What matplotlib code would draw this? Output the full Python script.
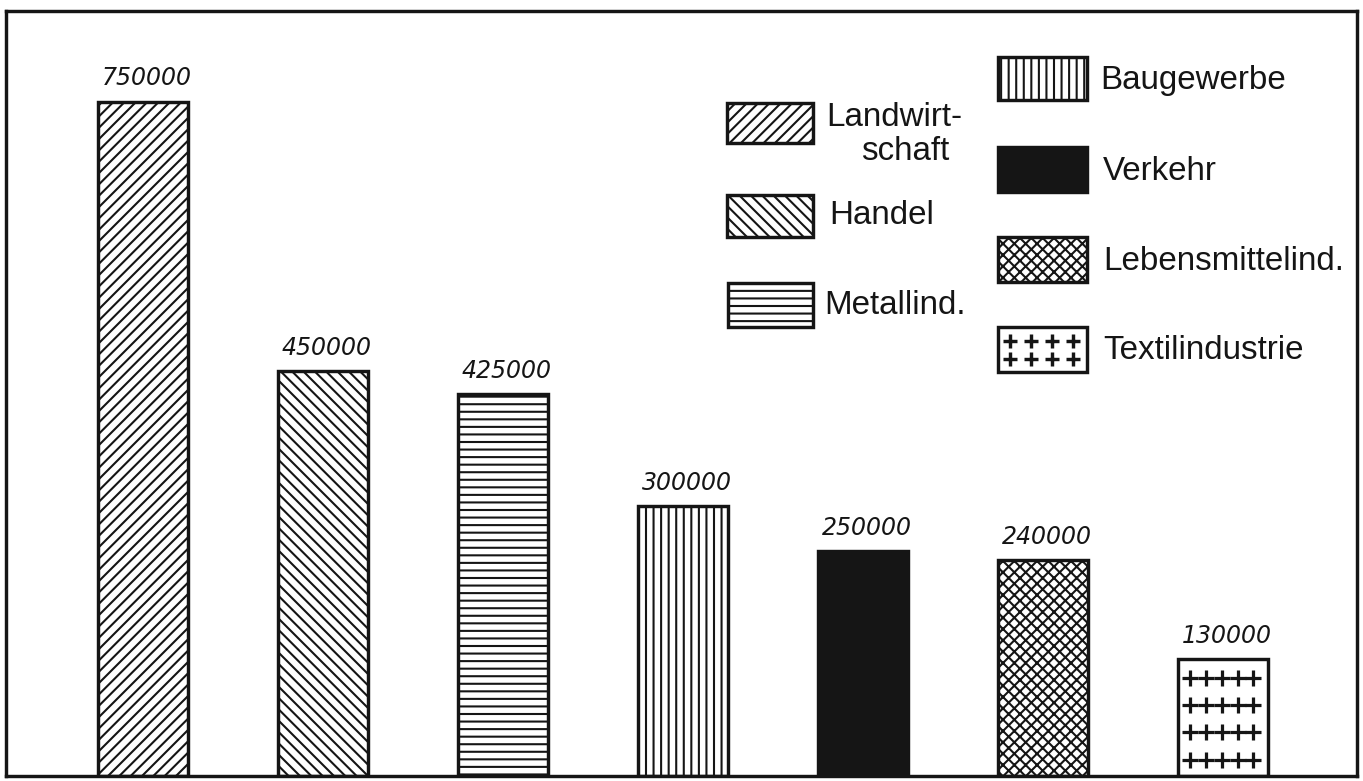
import numpy as np
import matplotlib
matplotlib.use('Agg')
import matplotlib.pyplot as plt
from matplotlib.patches import Rectangle

# data
branchen = ['Landwirtschaft', 'Handel', 'Metallind.', 'Baugewerbe', 'Verkehr',
            'Lebensmittelind.', 'Textilindustrie']
legend_labels = ['Landwirt-\nschaft', 'Handel', 'Metallind.', 'Baugewerbe', 'Verkehr',
                 'Lebensmittelind.', 'Textilindustrie']
beschaeftigte = [750000, 450000, 425000, 300000, 250000, 240000, 130000]
value_labels = ['750000', '450000', '425000', '300000', '250000', '240000', '130000']

# styles
hatches = ['////', '\\\\\\\\', '---', '|||', '', 'xxxx', '']
fills = ['white', 'white', 'white', 'white', '#151515', 'white', 'white']
INK = '#151515'

W, H = 1363, 781
DPI = 136.3
plt.rcParams['hatch.linewidth'] = 1.1
plt.rcParams['hatch.color'] = INK

fig = plt.figure(figsize=(W / DPI, H / DPI), dpi=DPI, facecolor='white')
# frame in pixels: left 6, top 11, right 1357, bottom 776
ax = fig.add_axes([6 / W, (H - 776) / H, (1357 - 6) / W, (776 - 11) / H])

x = np.arange(len(branchen))
bars = ax.bar(x, beschaeftigte, width=0.5, color=fills, edgecolor=INK, linewidth=1.8)
for b, h in zip(bars, hatches):
    if h:
        b.set_hatch(h)

ax.set_xlim(-0.76, 6.745)
ax.set_ylim(0, 851000)
ax.set_xticks([])
ax.set_yticks([])
for s in ax.spines.values():
    s.set_linewidth(1.8)
    s.set_color(INK)

for b, lab in zip(bars, value_labels):
    ax.annotate(lab, (b.get_x() + b.get_width() / 2, b.get_height()),
                xytext=(2, 6), textcoords='offset points', ha='center', va='bottom',
                fontsize=12.5, color=INK, fontstyle='italic')

# plus signs inside the textile bar
tb = bars[6]
px = tb.get_x() + tb.get_width() * np.linspace(0.14, 0.84, 5)
py = tb.get_height() * np.linspace(0.14, 0.84, 4)
gx, gy = np.meshgrid(px, py)
ax.scatter(gx.ravel(), gy.ravel(), marker='+', s=80, color=INK, linewidths=1.7, zorder=3)

# hand-placed legend (pixel boxes: left, top, right, bottom ; text x, text y)
boxes = [(727, 103, 813, 143, 826, 117),
         (727, 195, 813, 237, 829, 216),
         (728, 283, 813, 327, 824, 306),
         (998, 57, 1087, 100, 1100, 80),
         (998, 147, 1087, 192, 1103, 172),
         (998, 237, 1087, 282, 1103, 262),
         (998, 327, 1087, 372, 1103, 351)]
font = ['Liberation Sans', 'DejaVu Sans']
fs = 17.5
for i, (l, t, r, bt, tx, ty) in enumerate(boxes):
    rect = Rectangle((l / W, 1 - bt / H), (r - l) / W, (bt - t) / H,
                     transform=fig.transFigure, facecolor=fills[i],
                     edgecolor=INK, linewidth=1.8, hatch=hatches[i] or None)
    fig.add_artist(rect)
    if i == 6:
        lx = (l + (r - l) * np.linspace(0.14, 0.84, 4)) / W
        ly = 1 - (t + (bt - t) * np.array([0.3, 0.7])) / H
        mx, my = np.meshgrid(lx, ly)
        fig.add_artist(plt.Line2D(mx.ravel(), my.ravel(), transform=fig.transFigure,
                                  linestyle='none', marker='+', markersize=7.5,
                                  markeredgewidth=1.8, color=INK))
    if i == 0:
        first, second = legend_labels[i].split('\n')
        fig.text(tx / W, 1 - ty / H, first, ha='left', va='center',
                 fontsize=fs, family=font, color=INK)
        fig.text(905 / W, 1 - 152 / H, second, ha='center', va='center',
                 fontsize=fs, family=font, color=INK)
    else:
        fig.text(tx / W, 1 - ty / H, legend_labels[i], ha='left', va='center',
                 fontsize=fs, family=font, color=INK)

fig.savefig('out.png', dpi=DPI, facecolor='white')
